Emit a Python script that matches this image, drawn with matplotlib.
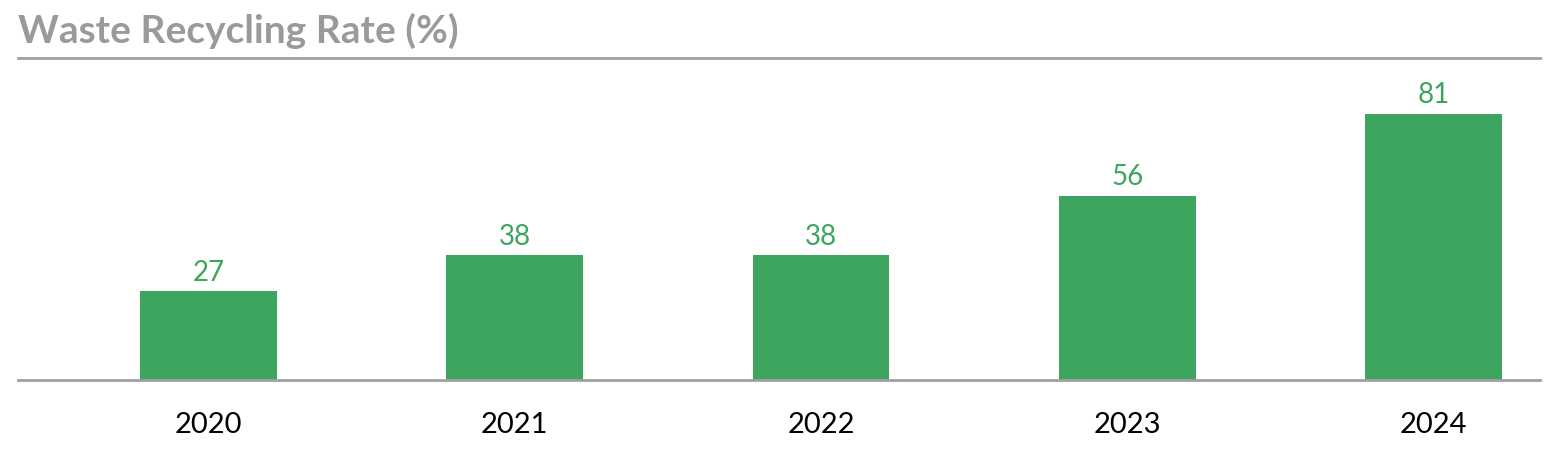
import matplotlib
matplotlib.use("Agg")
import matplotlib.pyplot as plt

years = ["2020", "2021", "2022", "2023", "2024"]
rates = [27, 38, 38, 56, 81]
title = "Waste Recycling Rate (%)"

plt.rcParams['font.family'] = ['Lato', 'DejaVu Sans']

W, H = 1549, 458
fig = plt.figure(figsize=(W / 100, H / 100), dpi=100)
ax = fig.add_axes([18 / W, (H - 380) / H, 1522 / W, 322 / H])

green = "#3EA55F"
gray = "#A0A0A0"
x = list(range(len(years)))
bars = ax.bar(x, rates, width=0.447, color=green)
for xi, v in zip(x, rates):
    ax.annotate(str(v), (xi, v), xytext=(0, 4), textcoords="offset points",
                ha="center", va="bottom", color=green, fontsize=20)

ax.set_xlim(-0.622, 4.348)
ax.set_ylim(0, 98)
ax.set_xticks(x)
ax.set_xticklabels(years, fontsize=21, color="black")
ax.tick_params(axis="x", length=0, pad=23)
ax.set_yticks([])
for s in ["left", "right"]:
    ax.spines[s].set_visible(False)
for s in ["top", "bottom"]:
    ax.spines[s].set_color(gray)
    ax.spines[s].set_linewidth(2)

fig.text(18 / W, 1 - 31 / H, title, fontsize=28, fontweight="bold",
         color="#9A9A9A", ha="left", va="center")

fig.savefig("out.png", dpi=100)
